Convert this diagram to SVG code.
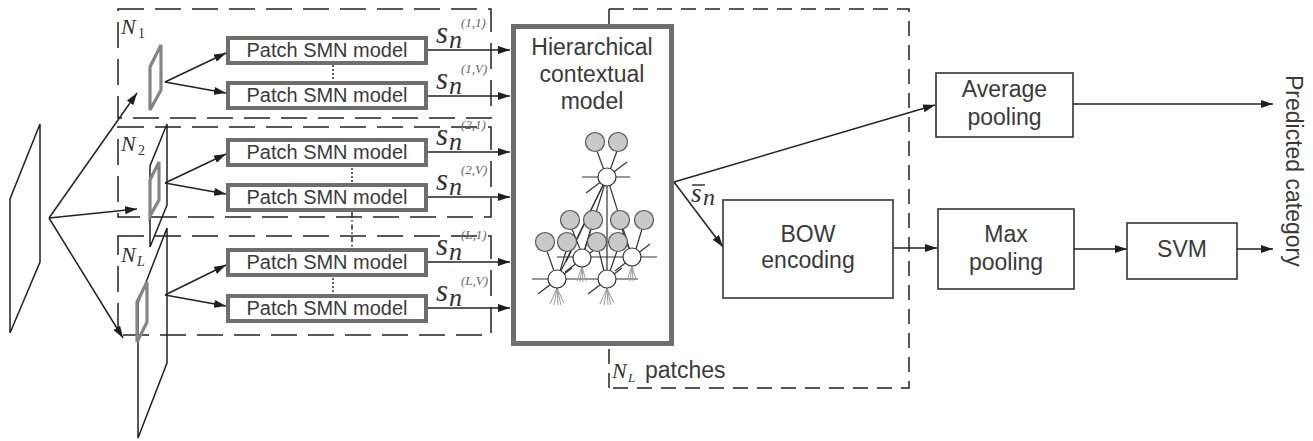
<svg xmlns="http://www.w3.org/2000/svg" width="1313" height="441" viewBox="0 0 1313 441">
  <defs>
    <marker id="arrow" markerWidth="12" markerHeight="8" refX="12" refY="4" orient="auto" markerUnits="userSpaceOnUse">
      <path d="M0,0 L12,4 L0,8 z" fill="#1e1e1e"/>
    </marker>
    <style>
      .ln{stroke:#222;stroke-width:1.5;fill:none}
      .arr{stroke:#222;stroke-width:1.5;fill:none;marker-end:url(#arrow)}
      .dash{stroke:#222;stroke-width:1.5;fill:none;stroke-dasharray:26 11}
      .dash2{stroke:#222;stroke-width:1.5;fill:none;stroke-dasharray:15 9}
      .dots{stroke:#333;stroke-width:1.5;fill:none;stroke-dasharray:2 2}
      .patch{fill:none;stroke:#858585;stroke-width:3.2}
      .pbox{fill:#fff;stroke:#6e6e6e;stroke-width:4}
      .hbox{fill:#fff;stroke:#6e6e6e;stroke-width:5}
      .box{fill:#fff;stroke:#333;stroke-width:1.6}
      .lbl{font-family:"Liberation Sans",Arial,sans-serif;fill:#3a3a3a;text-anchor:middle;font-size:23px}
      .plbl{font-family:"Liberation Sans",Arial,sans-serif;fill:#3a3a3a;text-anchor:middle;font-size:20px}
      .math{font-family:"Liberation Serif","Times New Roman",serif;font-style:italic;fill:#333}
      .up{font-family:"Liberation Serif","Times New Roman",serif;fill:#333}
      .sup{font-family:"Liberation Serif","Times New Roman",serif;font-style:italic;fill:#666;font-size:13px}
      .gn{fill:#c9c9c9;stroke:#555;stroke-width:1.2}
      .wn{fill:#fff;stroke:#333;stroke-width:1.2}
      .gl{stroke:#333;stroke-width:1.2;fill:none}
      .fan{stroke:#9a9a9a;stroke-width:1;fill:none}
    </style>
  </defs>

  <!-- patch-group frames -->
  <g id="frames">
    <rect class="dash" x="118" y="9" width="373" height="109"/>
    <rect class="dash" x="118" y="127" width="373" height="90"/>
    <rect class="dash" x="118" y="236" width="373" height="99"/>
    <path class="dash2" d="M609,9 H909 V388 H609 M609,388 V346 M609,9 V25"/>
  </g>

  <!-- input image and patch windows -->
  <g id="input-image">
    <path class="ln" d="M40,124 L40,262 L10,333 L10,199 Z"/>
  </g>
  <g id="window-2">
    <path class="ln" d="M167,124 L167,205 L150,247 L150,166 Z"/>
  </g>
  <g id="window-L">
    <path class="ln" d="M167,228 L167,363 L138,438 L138,303 Z"/>
  </g>
  <g id="patch-1"><path class="patch" d="M161,45 L161,90 L150,110 L150,67 Z"/></g>
  <g id="patch-2"><path class="patch" d="M159,162 L159,200 L150,216 L150,180 Z"/></g>
  <g id="patch-L"><path class="patch" d="M147,282 L147,322 L137,342 L137,302 Z"/></g>

  <!-- group labels -->
  <g id="group-labels">
    <text class="math" x="121" y="34" font-size="22">N</text><text class="up" x="138" y="38" font-size="14">1</text>
    <text class="math" x="121" y="151" font-size="22">N</text><text class="up" x="138" y="155" font-size="14">2</text>
    <text class="math" x="121" y="262" font-size="22">N</text><text class="math" x="137" y="266" font-size="14">L</text>
  </g>

  <!-- connectors -->
  <g id="connectors">
    <line class="arr" x1="49" y1="218" x2="137" y2="93"/>
    <line class="arr" x1="49" y1="218" x2="137" y2="209"/>
    <line class="arr" x1="49" y1="218" x2="123" y2="338"/>

    <line class="arr" x1="165" y1="82" x2="226" y2="53"/>
    <line class="arr" x1="165" y1="82" x2="226" y2="93"/>
    <line class="arr" x1="165" y1="183" x2="226" y2="154"/>
    <line class="arr" x1="165" y1="183" x2="226" y2="194"/>
    <line class="arr" x1="165" y1="295" x2="226" y2="265"/>
    <line class="arr" x1="165" y1="295" x2="226" y2="306"/>

    <line class="arr" x1="428" y1="50" x2="510" y2="50"/>
    <line class="arr" x1="428" y1="96" x2="510" y2="96"/>
    <line class="arr" x1="428" y1="152" x2="510" y2="152"/>
    <line class="arr" x1="428" y1="197" x2="510" y2="197"/>
    <line class="arr" x1="428" y1="262" x2="510" y2="262"/>
    <line class="arr" x1="428" y1="308" x2="510" y2="308"/>

    <line class="dots" x1="333" y1="65" x2="333" y2="81"/>
    <line class="dots" x1="352" y1="168" x2="352" y2="182"/>
    <line class="dots" x1="333" y1="278" x2="333" y2="293"/>
    <line class="ln" x1="352" y1="212" x2="352" y2="247" stroke-dasharray="5 3 1.5 3"/>

    <line class="arr" x1="674" y1="182" x2="935" y2="105"/>
    <line class="arr" x1="674" y1="182" x2="723" y2="247"/>
    <line class="arr" x1="1073" y1="104" x2="1273" y2="104"/>
    <line class="arr" x1="893" y1="248" x2="937" y2="248"/>
    <line class="arr" x1="1074" y1="249" x2="1127" y2="249"/>
    <line class="arr" x1="1237" y1="249" x2="1273" y2="249"/>
  </g>

  <!-- per-patch SMN models -->
  <g id="smn-1-1"><rect class="pbox" x="228" y="38" width="198" height="25"/><text class="plbl" x="327" y="57" textLength="161" lengthAdjust="spacingAndGlyphs">Patch SMN model</text></g>
  <g id="smn-1-V"><rect class="pbox" x="228" y="83" width="198" height="25"/><text class="plbl" x="327" y="102" textLength="161" lengthAdjust="spacingAndGlyphs">Patch SMN model</text></g>
  <g id="smn-2-1"><rect class="pbox" x="228" y="140" width="198" height="25"/><text class="plbl" x="327" y="159" textLength="161" lengthAdjust="spacingAndGlyphs">Patch SMN model</text></g>
  <g id="smn-2-V"><rect class="pbox" x="228" y="185" width="198" height="25"/><text class="plbl" x="327" y="204" textLength="161" lengthAdjust="spacingAndGlyphs">Patch SMN model</text></g>
  <g id="smn-L-1"><rect class="pbox" x="228" y="250" width="198" height="25"/><text class="plbl" x="327" y="269" textLength="161" lengthAdjust="spacingAndGlyphs">Patch SMN model</text></g>
  <g id="smn-L-V"><rect class="pbox" x="228" y="296" width="198" height="25"/><text class="plbl" x="327" y="315" textLength="161" lengthAdjust="spacingAndGlyphs">Patch SMN model</text></g>

  <!-- score labels s_n^(i,v) -->
  <g id="score-labels">
    <text class="math" x="436" y="43" font-size="31">s</text><text class="math" x="449" y="48" font-size="26">n</text><text class="sup" x="461" y="27">(1,1)</text>
    <text class="math" x="436" y="89" font-size="31">s</text><text class="math" x="449" y="94" font-size="26">n</text><text class="sup" x="461" y="73">(1,V)</text>
    <text class="math" x="436" y="145" font-size="31">s</text><text class="math" x="449" y="150" font-size="26">n</text><text class="sup" x="461" y="129">(2,1)</text>
    <text class="math" x="436" y="190" font-size="31">s</text><text class="math" x="449" y="195" font-size="26">n</text><text class="sup" x="461" y="174">(2,V)</text>
    <text class="math" x="436" y="255" font-size="31">s</text><text class="math" x="449" y="260" font-size="26">n</text><text class="sup" x="461" y="239">(L,1)</text>
    <text class="math" x="436" y="301" font-size="31">s</text><text class="math" x="449" y="306" font-size="26">n</text><text class="sup" x="461" y="285">(L,V)</text>
  </g>

  <!-- hierarchical contextual model -->
  <g id="hierarchical-model">
    <rect class="hbox" x="513.5" y="26.5" width="158" height="317"/>
    <text class="lbl" x="592" y="55">Hierarchical</text>
    <text class="lbl" x="592" y="82">contextual</text>
    <text class="lbl" x="592" y="109">model</text>
    <!-- graph edges -->
    <g class="gl">
      <line x1="597" y1="151" x2="604" y2="170"/>
      <line x1="617" y1="151" x2="610" y2="170"/>
      <line x1="582" y1="177" x2="630" y2="177"/>
      <line x1="586" y1="193" x2="627" y2="162"/>
      <line x1="607" y1="177" x2="607" y2="279"/>
      <line x1="607" y1="177" x2="557" y2="279"/>
      <line x1="607" y1="177" x2="582" y2="258"/>
      <line x1="607" y1="177" x2="566" y2="262"/>
      <line x1="607" y1="177" x2="632" y2="257"/>
      <line x1="557" y1="257" x2="657" y2="257"/>
      <line x1="532" y1="279" x2="638" y2="279"/>
      <line x1="547" y1="251" x2="554" y2="271"/>
      <line x1="566" y1="251" x2="560" y2="271"/>
      <line x1="572" y1="229" x2="580" y2="249"/>
      <line x1="591" y1="229" x2="585" y2="249"/>
      <line x1="599" y1="251" x2="604" y2="271"/>
      <line x1="617" y1="251" x2="610" y2="271"/>
      <line x1="622" y1="229" x2="629" y2="249"/>
      <line x1="642" y1="229" x2="636" y2="249"/>
      <line x1="538" y1="294" x2="572" y2="268"/>
      <line x1="588" y1="294" x2="622" y2="268"/>
      <line x1="565" y1="272" x2="598" y2="247"/>
      <line x1="615" y1="271" x2="650" y2="244"/>
    </g>
    <!-- fan-in below the lower nodes -->
    <g class="fan">
      <path d="M557,288 L550,304 M557,288 L554,305 M557,288 L558,305 M557,288 L561,305 M557,288 L564,303"/>
      <path d="M607,288 L600,304 M607,288 L604,305 M607,288 L608,305 M607,288 L611,305 M607,288 L614,303"/>
      <path d="M582,267 L577,281 M582,267 L580,282 M582,267 L583,282 M582,267 L586,281"/>
      <path d="M632,266 L627,280 M632,266 L630,281 M632,266 L633,281 M632,266 L636,280"/>
    </g>
    <!-- nodes -->
    <circle class="gn" cx="595" cy="142" r="9.5"/>
    <circle class="gn" cx="618" cy="142" r="9.5"/>
    <circle class="gn" cx="570" cy="220" r="9.5"/>
    <circle class="gn" cx="593" cy="220" r="9.5"/>
    <circle class="gn" cx="620" cy="220" r="9.5"/>
    <circle class="gn" cx="644" cy="220" r="9.5"/>
    <circle class="gn" cx="545" cy="242" r="9.5"/>
    <circle class="gn" cx="567" cy="242" r="9.5"/>
    <circle class="gn" cx="597" cy="242" r="9.5"/>
    <circle class="gn" cx="618" cy="242" r="9.5"/>
    <circle class="wn" cx="607" cy="177" r="9"/>
    <circle class="wn" cx="582" cy="258" r="9"/>
    <circle class="wn" cx="632" cy="257" r="9"/>
    <circle class="wn" cx="557" cy="279" r="9"/>
    <circle class="wn" cx="607" cy="279" r="9"/>
  </g>

  <!-- pooled score label -->
  <g id="mean-score-label">
    <text class="math" x="691" y="202" font-size="27">s</text>
    <line x1="692" y1="185" x2="705" y2="185" stroke="#333" stroke-width="1.5"/>
    <text class="math" x="703" y="205" font-size="24">n</text>
  </g>

  <g id="patches-label">
    <text class="math" x="612" y="378" font-size="22">N</text>
    <text class="math" x="628" y="382" font-size="13">L</text>
    <text class="lbl" x="645" y="378" style="text-anchor:start">patches</text>
  </g>

  <g id="bow-encoding">
    <rect class="box" x="723" y="200" width="170" height="98"/>
    <text class="lbl" x="808" y="242">BOW</text>
    <text class="lbl" x="808" y="268">encoding</text>
  </g>

  <g id="average-pooling">
    <rect class="box" x="936" y="73" width="137" height="64"/>
    <text class="lbl" x="1004.5" y="97">Average</text>
    <text class="lbl" x="1004.5" y="125">pooling</text>
  </g>

  <g id="max-pooling">
    <rect class="box" x="938" y="209" width="136" height="80"/>
    <text class="lbl" x="1006" y="242">Max</text>
    <text class="lbl" x="1006" y="270">pooling</text>
  </g>

  <g id="svm">
    <rect class="box" x="1127" y="223" width="110" height="56"/>
    <text class="lbl" x="1182" y="257">SVM</text>
  </g>

  <g id="output-label">
    <text class="lbl" x="1286" y="75" style="text-anchor:start" transform="rotate(90 1286 75)">Predicted category</text>
  </g>
</svg>
